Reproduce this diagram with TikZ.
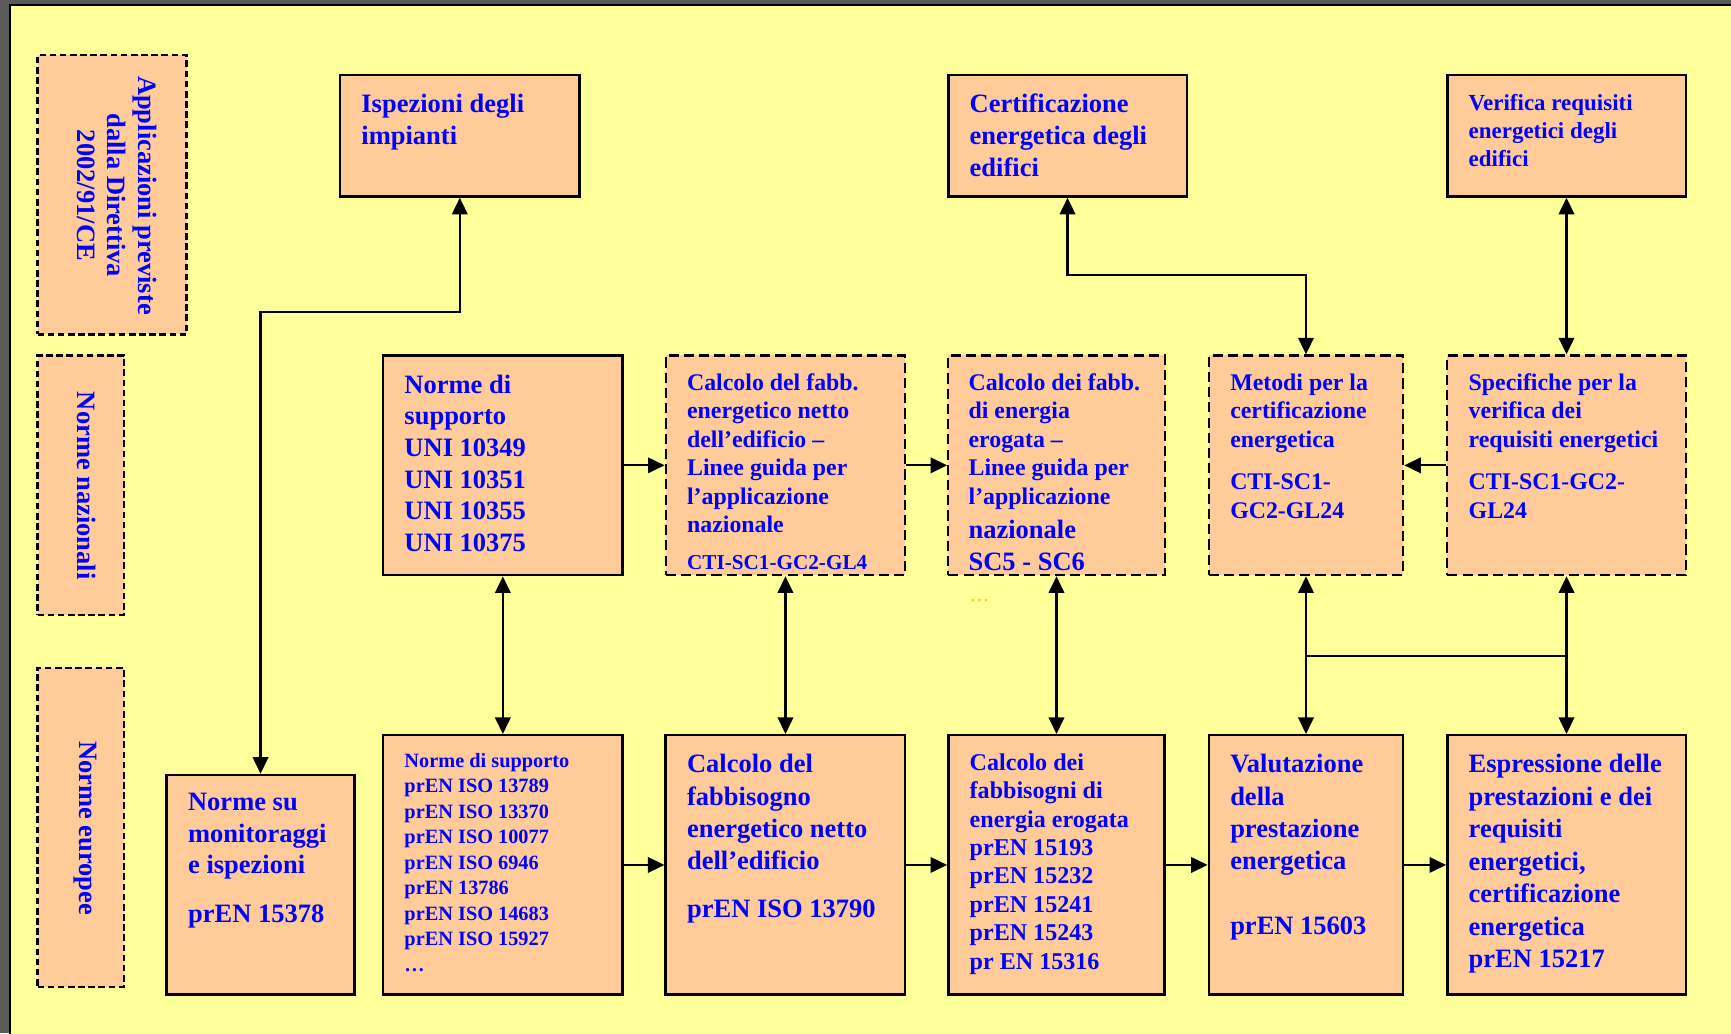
\documentclass[tikz,border=0pt]{standalone}
\usepackage{fontspec}
\setmainfont{Liberation Serif}
\usetikzlibrary{arrows.meta,fit}
\definecolor{paper}{HTML}{FFFF99}
\definecolor{peach}{HTML}{FFCC99}
\definecolor{ink}{HTML}{0000FF}
\definecolor{frame}{HTML}{5A5A5A}
\definecolor{dotcol}{HTML}{FFC000}
\begin{document}
\begin{tikzpicture}[x=0.5pt,y=-0.5pt,
  box/.style={draw=black, fill=peach, line width=1.1pt, inner sep=0pt},
  dbox/.style={box, line width=1pt, dash pattern=on 4.6pt off 2.3pt},
  lbox/.style={box, line width=1pt, dash pattern=on 3pt off 1.6pt},
  txt/.style={text=ink, inner sep=0pt, align=left, anchor=north west},
  big/.style={font=\bfseries\fontsize{12}{14.4}\selectfont},
  mid/.style={font=\bfseries\fontsize{10.8}{12.9}\selectfont},
  small/.style={font=\bfseries\fontsize{9.2}{11.55}\selectfont},
  link/.style={line width=0.95pt, -{Triangle[length=7.5pt,width=7pt]}},
  both/.style={line width=0.95pt, {Triangle[length=7.5pt,width=7pt]}-{Triangle[length=7.5pt,width=7pt]}},
  plain/.style={line width=0.95pt},
]
\useasboundingbox (0,0) rectangle (1568,936);
% page background
\fill[frame] (0,0) rectangle (1568,936);
\filldraw[fill=paper, draw=black, line width=0.6pt] (9,4.5) rectangle (1580,950);

% row labels
\node[lbox, fit={(34,50)(169,303)}] (rowA) {};
\node[lbox, fit={(34,322)(112,557)}] (rowB) {};
\node[lbox, fit={(34,605)(112,894)}] (rowC) {};
\node[text=ink, inner sep=0pt, align=center, rotate=-90, font=\bfseries\fontsize{12}{14}\selectfont]
  (lblA) at (106,177) {Applicazioni previste\\dalla Direttiva\\2002/91/CE};
\node[text=ink, inner sep=0pt, rotate=-90, big] (lblB) at (78,440) {Norme nazionali};
\node[text=ink, inner sep=0pt, rotate=-90, big] (lblC) at (77,750) {Norme europee};

% top row: applications
\node[box, fit={(308,68)(525,178)}] (isp) {};
\node[box, fit={(859,68)(1075,178)}] (cert) {};
\node[box, fit={(1311,68)(1527,178)}] (verif) {};
\node[txt, big] (tisp) at (327,85) {Ispezioni degli\\impianti};
\node[txt, font=\bfseries\fontsize{12}{14.35}\selectfont] (tcert) at (878,85) {Certificazione\\energetica degli\\edifici};
\node[txt, font=\bfseries\fontsize{10.4}{12.8}\selectfont] (tverif) at (1330,85) {Verifica requisiti\\energetici degli\\edifici};

% middle row: national standards
\node[box, fit={(347,322)(564,521)}] (uni) {};
\node[dbox, fit={(603,322)(820,521)}] (natA) {};
\node[dbox, fit={(859,322)(1055,521)}] (natB) {};
\node[dbox, fit={(1095,322)(1271,521)}] (metodi) {};
\node[dbox, fit={(1311,322)(1527,521)}] (spec) {};
\node[txt, font=\bfseries\fontsize{12}{14.35}\selectfont] (tuni) at (366,339)
  {Norme di\\supporto\\UNI 10349\\UNI 10351\\UNI 10355\\UNI 10375};
\node[txt, mid] (tnatA) at (622,338)
  {Calcolo del fabb.\\energetico netto\\dell’edificio –\\Linee guida per\\l’applicazione\\nazionale};
\node[text=ink, inner sep=0pt, anchor=base west, font=\bfseries\fontsize{9.6}{11}\selectfont]
  (tnatAcode) at (622,516) {CTI-SC1-GC2-GL4};
\node[txt, mid] (tnatB) at (877,338)
  {Calcolo dei fabb.\\di energia\\erogata –\\Linee guida per\\l’applicazione};
\node[text=ink, inner sep=0pt, anchor=base west, align=left, font=\bfseries\fontsize{12}{14.35}\selectfont]
  (tnatBcode) at (877,516.5) {nazionale\\SC5 - SC6};
\node[text=dotcol, inner sep=0pt, anchor=base west, font=\fontsize{9}{10}\selectfont] (tdots) at (878,545) {…};
\node[txt, mid] (tmetodi) at (1114,338)
  {Metodi per la\\certificazione\\energetica\\[6.4pt]CTI-SC1-\\GC2-GL24};
\node[txt, mid] (tspec) at (1330,338)
  {Specifiche per la\\verifica dei\\requisiti energetici\\[6.4pt]CTI-SC1-GC2-\\GL24};

% bottom row: European standards
\node[box, fit={(151,702)(321,901)}] (mon) {};
\node[box, fit={(347,666)(564,901)}] (eusup) {};
\node[box, fit={(603,666)(820,901)}] (euA) {};
\node[box, fit={(859,666)(1055,901)}] (euB) {};
\node[box, fit={(1095,666)(1271,901)}] (val) {};
\node[box, fit={(1311,666)(1527,901)}] (espr) {};
\node[txt, font=\bfseries\fontsize{12}{14.35}\selectfont] (tmon) at (170,718)
  {Norme su\\monitoraggi\\e ispezioni\\[7.5pt]prEN 15378};
\node[txt, small] (teusup) at (366,682)
  {Norme di supporto\\prEN ISO 13789\\prEN ISO 13370\\prEN ISO 10077\\prEN ISO 6946\\prEN 13786\\prEN ISO 14683\\prEN ISO 15927\\…};
\node[txt, font=\bfseries\fontsize{12}{14.6}\selectfont] (teuA) at (622,683)
  {Calcolo del\\fabbisogno\\energetico netto\\dell’edificio\\[7pt]prEN ISO 13790};
\node[txt, font=\bfseries\fontsize{10.9}{12.9}\selectfont] (teuB) at (878,682)
  {Calcolo dei\\fabbisogni di\\energia erogata\\prEN 15193\\prEN 15232\\prEN 15241\\prEN 15243\\pr EN 15316};
\node[txt, font=\bfseries\fontsize{12}{14.6}\selectfont] (tval) at (1114,683)
  {Valutazione\\della\\prestazione\\energetica\\[14.6pt]prEN 15603};
\node[txt, font=\bfseries\fontsize{12}{14.7}\selectfont] (tespr) at (1330,683)
  {Espressione delle\\prestazioni e dei\\requisiti\\energetici,\\certificazione\\energetica\\prEN 15217};

% connectors
\coordinate (jIsp) at (0,283);
\coordinate (jCert) at (0,249);
\coordinate (jRight) at (0,594);
\draw[both] (isp.south) -- (isp.south |- jIsp) -| (mon.north);
\draw[both] (cert.south) -- (cert.south |- jCert) -| (metodi.north);
\draw[both] (verif.south) -- (spec.north);
\draw[both] (uni.south) -- (eusup.north);
\draw[both] (natA.south) -- (euA.north);
\draw[both] (natB.south) -- (euB.north);
\draw[both] (metodi.south) -- (val.north);
\draw[both] (spec.south) -- (espr.north);
\draw[plain] (metodi.south |- jRight) -- (spec.south |- jRight);
\draw[link] (uni.east) -- (natA.west);
\draw[link] (natA.east) -- (natB.west);
\draw[link] (spec.west) -- (metodi.east);
\draw[link] (eusup.east) -- (euA.west);
\draw[link] (euA.east) -- (euB.west);
\draw[link] (euB.east) -- (val.west);
\draw[link] (val.east) -- (espr.west);
\end{tikzpicture}
\end{document}
